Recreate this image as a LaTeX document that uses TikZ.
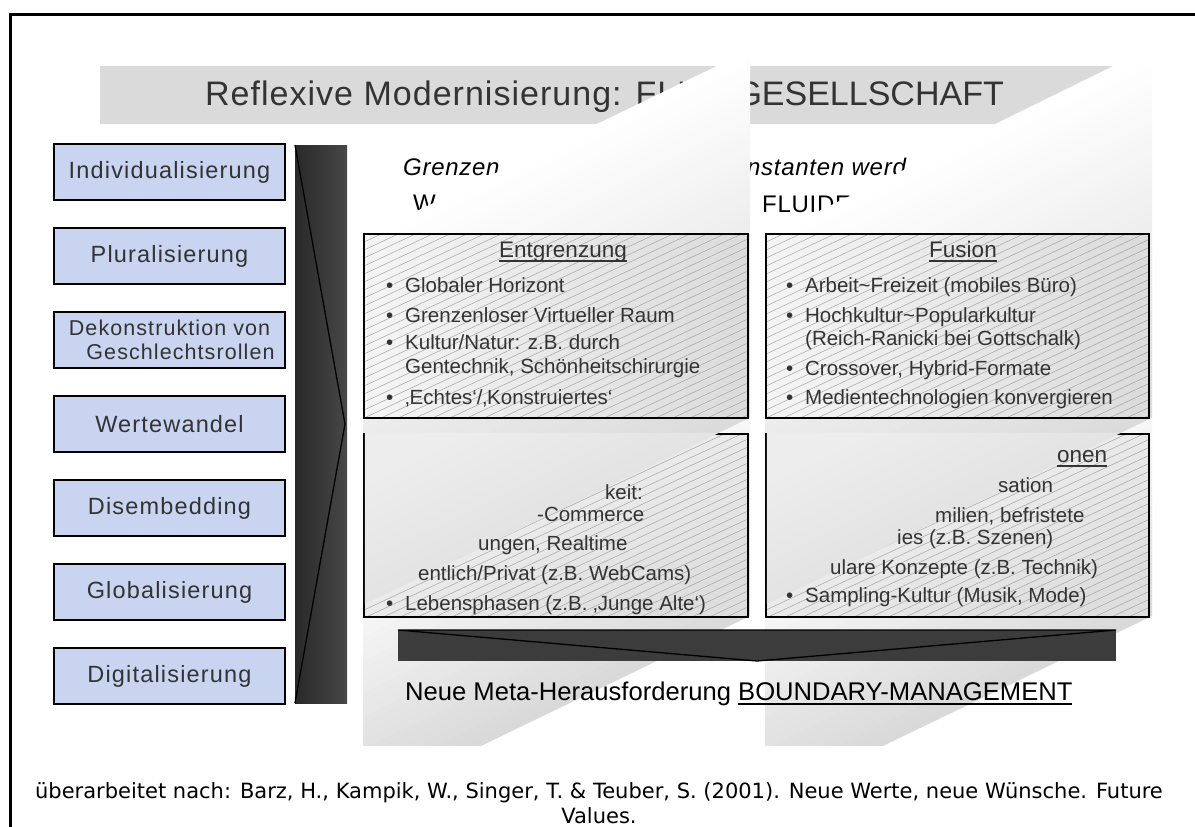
\documentclass[tikz,border=0pt]{standalone}
\usepackage{fontspec}
\setmainfont{Liberation Sans}
\newfontfamily\trackfont[LetterSpace=5]{Liberation Sans}
\newfontfamily\widefont[LetterSpace=3]{Liberation Sans}
\newfontfamily\srcfont{DejaVu Sans}
\usepackage{tikz}
\usetikzlibrary{positioning}

\definecolor{titlegrey}{HTML}{DADADA}
\definecolor{boxblue}{HTML}{C8D4F0}
\definecolor{inkgrey}{HTML}{333333}
\definecolor{bargrey}{HTML}{3C3C3C}

\newcommand\ulhead[1]{\setbox0\hbox{#1}\rlap{\rule[-4.5pt]{\wd0}{1.4pt}}\box0}
\newcommand\blt{\llap{\textbullet\hspace{12pt}}}

\tikzset{
  driver/.style={draw=black, line width=2pt, fill=boxblue, minimum width=231pt,
    minimum height=56pt, inner sep=0pt, text=inkgrey, align=center,
    font=\trackfont\fontsize{23.5}{26}\selectfont},
  field/.style={inner sep=0pt, outer sep=0pt, left color=black!4, right color=black!14},
  lowfield/.style={inner sep=0pt, outer sep=0pt, top color=black!4, bottom color=black!13, shading angle=26},
  hatch/.style={black!38, line width=0.45pt},
  rim/.style={draw=black, line width=1.8pt},
  item/.style={anchor=base west, inner sep=0pt, text=inkgrey, font=\fontsize{20.5}{24}\selectfont},
  head/.style={anchor=base, inner sep=0pt, text=inkgrey, font=\fontsize{22.5}{26}\selectfont},
  lead/.style={anchor=base west, inner sep=0pt, font=\widefont\fontsize{24}{28}\selectfont},
}

\begin{document}
\begin{tikzpicture}[x=1pt, y=-1pt]
  \useasboundingbox (0,0) rectangle (1195,827);
  % frame
  \draw[line width=3pt] (10,827) -- (10,14) -- (1195,14);

  % title bar
  \fill[titlegrey] (100,66) -- (1113,66) -- (995,124) -- (100,124) -- cycle;
  \node[anchor=base west, inner sep=0pt, text=inkgrey, font=\widefont\fontsize{34}{40}\selectfont] (title) at (205,105) {Reflexive Modernisierung: FLU};
  \node[anchor=base east, inner sep=0pt, text=inkgrey, font=\fontsize{34}{40}\selectfont] (title2) at (1004,105) {GESELLSCHAFT};

  % lead lines, cut by the panels
  \node[lead, font=\widefont\itshape\fontsize{24}{28}\selectfont] (lead1) at (403,175) {Grenzen};
  \node[lead, font=\widefont\itshape\fontsize{24}{28}\selectfont] (lead2) at (747,175) {nstanten werd};
  \node[lead] (lead3) at (413,211) {W};
  \node[lead] (lead4) at (762,212) {FLUIDE};

  % bands of the two panels
  \foreach \dx in {0,402}{
    \begin{scope}[xshift=\dx pt]
      \clip (363,0) rectangle (750,745);
      \foreach \k in {0,...,45}{
        \pgfmathsetmacro\p{14*\k/45}
        \pgfmathsetmacro\b{min(8*\k+12,368)}
        \fill[black!\p] (363,{237+8*\k}) -- (750,{50+8*\k}) -- (750,{50+\b}) -- (363,{237+\b}) -- cycle;
      }
      \foreach \k in {0,...,24}{
        \pgfmathsetmacro\p{3+12*\k/24}
        \pgfmathsetmacro\b{min(8*\k+12,198)}
        \fill[black!\p] (363,{605+8*\k}) -- (750,{418+8*\k}) -- (750,{418+\b}) -- (363,{605+\b}) -- cycle;
      }
    \end{scope}
  }

  % the four hatched boxes
  \node[field, minimum width=384pt, minimum height=184pt] (grenz) at (556,326) {};
  \node[field, minimum width=383pt, minimum height=184pt] (fusion) at (957.5,326) {};
  \node[lowfield, minimum width=384pt, minimum height=183pt] (raumzeit) at (556,525.5) {};
  \node[lowfield, minimum width=383pt, minimum height=183pt] (module) at (957.5,525.5) {};
  \foreach \b in {grenz,fusion,raumzeit,module}{
    \begin{scope}
      \clip (\b.north west) rectangle (\b.south east);
      \foreach \i in {0,...,47}
        \draw[hatch] ([yshift={-8*\i}]\b.north west) -- ++(400,-186.5);
    \end{scope}
  }
  \draw[rim] (grenz.north west) rectangle (grenz.south east);
  \draw[rim] (fusion.north west) rectangle (fusion.south east);
  \draw[rim] (raumzeit.north west) rectangle (raumzeit.south east);
  \draw[rim] (module.north west) rectangle (module.south east);

  % the panels fold over the lower boxes
  \shade[top color=black!7, bottom color=black!15, shading angle=26]
    (364.9,432.6) -- (719.5,432.6) -- (364.9,604) -- cycle;
  \shade[top color=black!7, bottom color=black!15, shading angle=26]
    (766.9,432.6) -- (1121.5,432.6) -- (766.9,604) -- cycle;

  \node[head] (grenzhead) at (563,257) {\ulhead{Entgrenzung}};
  \node[item] (g1) at (405,292) {\blt Globaler Horizont};
  \node[item] (g2) at (405,322) {\blt Grenzenloser Virtueller Raum};
  \node[item] (g3) at (405,349) {\blt Kultur/Natur: z.B. durch};
  \node[item] (g4) at (405,373) {Gentechnik, Schönheitschirurgie};
  \node[item] (g5) at (405,404) {\blt ‚Echtes‘/‚Konstruiertes‘};

  \node[head] (fushead) at (963,257) {\ulhead{Fusion}};
  \node[item] (f1) at (805,292) {\blt Arbeit\textasciitilde Freizeit (mobiles Büro)};
  \node[item] (f2) at (805,322) {\blt Hochkultur\textasciitilde Popularkultur};
  \node[item] (f3) at (805,345) {(Reich-Ranicki bei Gottschalk)};
  \node[item] (f4) at (805,375) {\blt Crossover, Hybrid-Formate};
  \node[item] (f5) at (805,404) {\blt Medientechnologien konvergieren};

  % what shows of the lower boxes
  \node[item] (z1) at (605,499) {keit:};
  \node[item] (z2) at (537,521) {-Commerce};
  \node[item] (z3) at (478,550) {ungen, Realtime};
  \node[item] (z4) at (418,580) {entlich/Privat (z.B. WebCams)};
  \node[item] (z5) at (405,610) {\blt Lebensphasen (z.B. ‚Junge Alte‘)};

  \node[head, anchor=base west] (m0) at (1057,462) {\ulhead{onen}};
  \node[item] (m1) at (998,492) {sation};
  \node[item] (m2) at (935,522) {milien, befristete};
  \node[item] (m3) at (897,544) {ies (z.B. Szenen)};
  \node[item] (m4) at (830,574) {ulare Konzepte (z.B. Technik)};
  \node[item] (m5) at (805,602) {\blt Sampling-Kultur (Musik, Mode)};

  % drivers on the left
  \node[driver] (indiv) at (169.5,172) {Individualisierung};
  \node[driver, below=26pt of indiv] (plural) {Pluralisierung};
  \node[driver, below=26pt of plural, font=\trackfont\fontsize{21.5}{24}\selectfont] (dekon) {Dekonstruktion von\\\hspace*{22pt}Geschlechtsrollen};
  \node[driver, below=26pt of dekon] (werte) {Wertewandel};
  \node[driver, below=26pt of werte] (disemb) {Disembedding};
  \node[driver, below=26pt of disemb] (global) {Globalisierung};
  \node[driver, below=26pt of global] (digital) {Digitalisierung};

  % big arrows
  \node[minimum width=52pt, minimum height=558pt, inner sep=0pt, outer sep=0pt,
    left color=black!84, right color=black!72] (push) at (321,424) {};
  \draw[line width=1.3pt] (push.north west) -- ([xshift=-2pt]push.east) -- (push.south west);

  \node[minimum width=718pt, minimum height=31pt, inner sep=0pt, outer sep=0pt, fill=bargrey] (funnel) at (757,645.5) {};
  \draw[line width=1.3pt] (funnel.north west) -- (funnel.south) -- (funnel.north east) -- cycle;

  \node[anchor=base west, inner sep=0pt, font=\fontsize{25.6}{30}\selectfont] (meta) at (405,700) {Neue Meta-Herausforderung \ulhead{BOUNDARY-MANAGEMENT}};

  % source
  \node[anchor=base, inner sep=0pt, font=\srcfont\fontsize{21}{25}\selectfont] (src) at (599,798) {überarbeitet nach: Barz, H., Kampik, W., Singer, T. \& Teuber, S. (2001). Neue Werte, neue Wünsche. Future};
  \node[anchor=base, inner sep=0pt, font=\srcfont\fontsize{21}{25}\selectfont] (src2) at ([yshift=-25pt]src.base) {Values.};
\end{tikzpicture}
\end{document}
